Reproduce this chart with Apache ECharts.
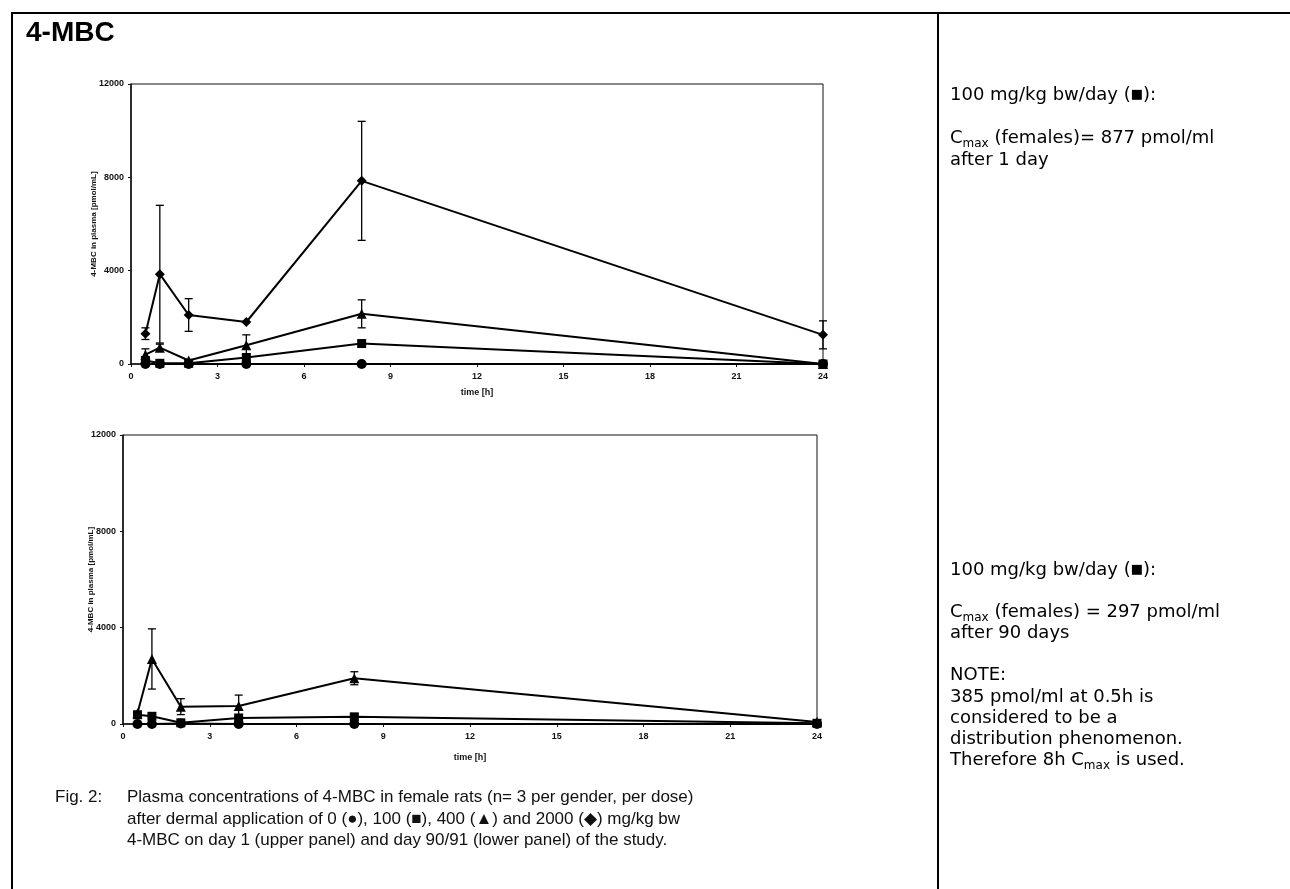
<!DOCTYPE html>
<html>
<head>
<meta charset="utf-8">
<script src="https://cdn.jsdelivr.net/npm/echarts@6/dist/echarts.min.js"></script>
<style>
html,body{margin:0;padding:0;background:#fff;}
#c{width:1290px;height:889px;}
</style>
</head>
<body>
<div id="c"></div>
<script>
// ---- data ----
const times = [0.5, 1, 2, 4, 8, 24];
const xTicks = [0, 3, 6, 9, 12, 15, 18, 21, 24];
const yTicks = [0, 4000, 8000, 12000];

// Day 1 (upper panel)
const day1_dose0 = [0, 0, 0, 0, 0, 0];
const day1_dose100 = [150, 30, 30, 280, 877, 0];
const day1_dose400 = [400, 700, 150, 800, 2150, 0];
const day1_dose400_sd = [250, 150, 0, 450, 600, 0];
const day1_dose2000 = [1300, 3850, 2100, 1800, 7850, 1250];
const day1_dose2000_sd = [250, 2950, 700, 0, 2550, 600];

// Day 90/91 (lower panel)
const day90_dose0 = [0, 0, 20, 0, 0, 0];
const day90_dose100 = [385, 320, 50, 250, 297, 30];
const day90_dose400 = [450, 2700, 720, 750, 1900, 80];
const day90_dose400_sd = [0, 1250, 330, 450, 270, 0];

const titleText = '4-MBC';
const yName = '4-MBC in plasma [pmol/mL]';
const xName = 'time [h]';

// ---- chart ----
const chart = echarts.init(document.getElementById('c'), null, {renderer: 'canvas'});
const F = 'Liberation Sans, Arial, sans-serif';
const V = 'DejaVu Sans, Verdana, sans-serif';
const RS = 18; // right-column font size

function pts(vals) { return times.map((t, i) => [t, vals[i]]); }

function lineSeries(vals, symbol, size, gi) {
  return {
    type: 'line', xAxisIndex: gi, yAxisIndex: gi, data: pts(vals),
    symbol: symbol, symbolSize: size, showSymbol: true,
    lineStyle: {color: '#000', width: 2}, itemStyle: {color: '#000'},
    z: 3, silent: true
  };
}

function errSeries(vals, sds, gi) {
  const d = times.map((t, i) => [t, vals[i], sds[i]]).filter(r => r[2] > 0);
  return {
    type: 'custom', xAxisIndex: gi, yAxisIndex: gi, data: d, z: 2, silent: true,
    encode: {x: 0, y: 1},
    renderItem: function (params, api) {
      const x = api.value(0), v = api.value(1), e = api.value(2);
      const hi = api.coord([x, v + e]);
      const lo = api.coord([x, v - e]);
      const w = 4;
      const st = {stroke: '#000', lineWidth: 1.3};
      return {type: 'group', children: [
        {type: 'line', shape: {x1: hi[0], y1: hi[1], x2: lo[0], y2: lo[1]}, style: st},
        {type: 'line', shape: {x1: hi[0] - w, y1: hi[1], x2: hi[0] + w, y2: hi[1]}, style: st},
        {type: 'line', shape: {x1: lo[0] - w, y1: lo[1], x2: lo[0] + w, y2: lo[1]}, style: st}
      ]};
    }
  };
}

function xAxis(gi, gap) {
  return {
    type: 'value', gridIndex: gi, min: xTicks[0], max: xTicks[xTicks.length - 1], interval: 3,
    name: xName, nameLocation: 'middle', nameGap: gap, nameMoveOverlap: false,
    nameTextStyle: {fontFamily: F, fontWeight: 'bold', fontSize: 9, color: '#111'},
    axisLine: {lineStyle: {color: '#111', width: 1.5}},
    axisTick: {show: true, length: 3, lineStyle: {color: '#111'}},
    axisLabel: {fontFamily: F, fontWeight: 'bold', fontSize: 9, color: '#111', margin: 8,
      formatter: v => String(v)},
    splitLine: {show: false}
  };
}
function yAxis(gi, gap) {
  return {
    type: 'value', gridIndex: gi, min: yTicks[0], max: yTicks[yTicks.length - 1], interval: 4000,
    name: yName, nameLocation: 'middle', nameGap: gap, nameRotate: 90, nameMoveOverlap: false,
    nameTextStyle: {fontFamily: F, fontWeight: 'bold', fontSize: 8, color: '#111'},
    axisLine: {show: true, lineStyle: {color: '#111', width: 1.5}},
    axisTick: {show: true, length: 3, lineStyle: {color: '#111'}},
    axisLabel: {fontFamily: F, fontWeight: 'bold', fontSize: 9, color: '#111', margin: 7,
      formatter: v => String(v)},
    splitLine: {show: false}
  };
}

function txt(x, y, text, font, fill) {
  return {
    type: 'text', x: x, y: y, silent: true,
    style: {text: text, font: font, fill: fill || '#000', textVerticalAlign: 'middle'}
  };
}
const richStyles = {
  n: {fontFamily: V, fontSize: RS, color: '#000', lineHeight: 24, verticalAlign: 'middle'},
  s: {fontFamily: V, fontSize: 12, color: '#000', lineHeight: 24, verticalAlign: 'bottom'},
  q: {fontFamily: V, fontSize: 13, color: '#000', lineHeight: 24, verticalAlign: 'middle'}
};
function richText(x, y, text) {
  return {
    type: 'text', x: x, y: y, silent: true,
    style: {text: text, textVerticalAlign: 'middle', rich: richStyles}
  };
}
const RF = RS + 'px ' + V;
const CF = '17px ' + F;

const option = {
  backgroundColor: '#fff',
  animation: false,
  grid: [
    {left: 131, top: 84, width: 692, height: 280, show: true, borderColor: '#111', borderWidth: 1, backgroundColor: 'transparent'},
    {left: 123, top: 435, width: 694, height: 289, show: true, borderColor: '#111', borderWidth: 1, backgroundColor: 'transparent'}
  ],
  xAxis: [xAxis(0, 24), xAxis(1, 29)],
  yAxis: [yAxis(0, 33), yAxis(1, 28)],
  series: [
    errSeries(day1_dose400, day1_dose400_sd, 0),
    errSeries(day1_dose2000, day1_dose2000_sd, 0),
    lineSeries(day1_dose0, 'circle', 10, 0),
    lineSeries(day1_dose100, 'rect', 9, 0),
    lineSeries(day1_dose400, 'triangle', 10, 0),
    lineSeries(day1_dose2000, 'diamond', 10, 0),
    errSeries(day90_dose400, day90_dose400_sd, 1),
    lineSeries(day90_dose0, 'circle', 10, 1),
    lineSeries(day90_dose100, 'rect', 9, 1),
    lineSeries(day90_dose400, 'triangle', 10, 1)
  ],
  graphic: [
    // table borders
    {type: 'line', shape: {x1: 11, y1: 13, x2: 1290, y2: 13}, style: {stroke: '#000', lineWidth: 2}, silent: true},
    {type: 'line', shape: {x1: 12, y1: 12, x2: 12, y2: 889}, style: {stroke: '#000', lineWidth: 2}, silent: true},
    {type: 'line', shape: {x1: 938, y1: 12, x2: 938, y2: 889}, style: {stroke: '#000', lineWidth: 2}, silent: true},
    // title
    txt(26, 33, titleText, 'bold 28px ' + F),
    // right notes
    richText(950, 95, '{n|100 mg/kg bw/day (}{q|\u25A0}{n|):}'),
    richText(950, 138, '{n|C}{s|max}{n| (females)= 877 pmol/ml}'),
    txt(950, 160, 'after 1 day', RF),
    richText(950, 570, '{n|100 mg/kg bw/day (}{q|\u25A0}{n|):}'),
    richText(950, 612, '{n|C}{s|max}{n| (females) = 297 pmol/ml}'),
    txt(950, 633, 'after 90 days', RF),
    txt(950, 675, 'NOTE:', RF),
    txt(950, 697, '385 pmol/ml at 0.5h is', RF),
    txt(950, 718, 'considered to be a', RF),
    txt(950, 739, 'distribution phenomenon.', RF),
    richText(950, 760, '{n|Therefore 8h C}{s|max}{n| is used.}'),
    // caption
    txt(55, 797, 'Fig. 2:', CF, '#111'),
    txt(127, 797, 'Plasma concentrations of 4-MBC in female rats (n= 3 per gender, per dose)', CF, '#111'),
    txt(127, 819, 'after dermal application of 0 (\u25CF), 100 (\u25A0), 400 (\u25B2) and 2000 (\u25C6) mg/kg bw', CF, '#111'),
    txt(127, 840, '4-MBC on day 1 (upper panel) and day 90/91 (lower panel) of the study.', CF, '#111')
  ]
};
chart.setOption(option);
</script>
</body>
</html>
